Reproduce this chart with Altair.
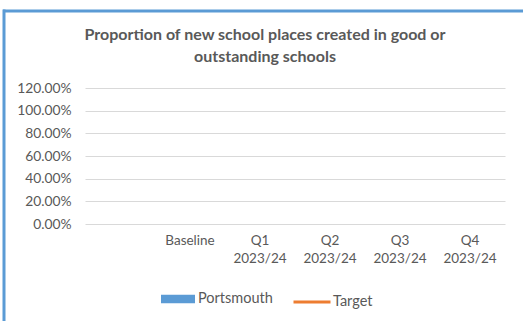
import altair as alt
import pandas as pd

# ---- data (chart has no plotted values yet) ----
categories = ["", "Baseline", "Q1|2023/24", "Q2|2023/24", "Q3|2023/24", "Q4|2023/24"]
portsmouth = [None, None, None, None, None, None]
target = [None, None, None, None, None, None]
y_ticks = [0, 0.2, 0.4, 0.6, 0.8, 1.0, 1.2]

df = pd.DataFrame({"cat": categories, "Portsmouth": portsmouth, "Target": target})

FONT = "Lato"
GREY = "#595959"
BLUE = "#5B9BD5"
ORANGE = "#ED7D31"

x_enc = alt.X(
    "cat:N",
    scale=alt.Scale(domain=categories, paddingInner=0.33, paddingOuter=0.165),
    sort=categories,
    axis=alt.Axis(
        title=None, labelAngle=0, domain=False, ticks=False, grid=False,
        labelExpr="split(datum.label, '|')", labelPadding=9, labelLineHeight=18,
        labelFont=FONT, labelFontSize=13.5, labelColor=GREY,
    ),
)
y_scale = alt.Scale(domain=[0, 1.2], nice=False, zero=True)
y_axis = alt.Axis(
    title=None, format=".2%", values=y_ticks, tickCount=7, labelOverlap=False,
    domain=False, ticks=False,
    gridColor="#D9D9D9", gridWidth=1, labelPadding=14,
    labelFont=FONT, labelFontSize=13.8, labelColor=GREY,
)

bars = alt.Chart(df).mark_bar().encode(
    x=x_enc,
    y=alt.Y("Portsmouth:Q", scale=y_scale, axis=y_axis),
    fill=alt.Fill(
        "s:N",
        scale=alt.Scale(domain=["Portsmouth"], range=[BLUE]),
        legend=alt.Legend(
            title=None, orient="none", legendX=76, legendY=194,
            symbolType="M-1,-0.25H1V0.25H-1Z", symbolSize=1156,
            symbolStrokeWidth=0, labelOffset=3,
            labelFont=FONT, labelFontSize=14.5, labelColor=GREY,
        ),
    ),
).transform_calculate(s="'Portsmouth'")

line = alt.Chart(df).mark_line(strokeWidth=3).encode(
    x=x_enc,
    y=alt.Y("Target:Q", scale=y_scale, axis=y_axis),
    stroke=alt.Stroke(
        "t:N",
        scale=alt.Scale(domain=["Target"], range=[ORANGE]),
        legend=alt.Legend(
            title=None, orient="none", legendX=207, legendY=194,
            symbolType="stroke", symbolSize=1369, symbolStrokeWidth=3,
            labelOffset=1,
            labelFont=FONT, labelFontSize=14.5, labelColor=GREY,
        ),
    ),
).transform_calculate(t="'Target'")

frame_df = pd.DataFrame({"k": [0]})
top_border = alt.Chart(frame_df).mark_rect(color=BLUE, strokeWidth=0).encode(
    x=alt.value(-82), x2=alt.value(438), y=alt.value(-78.5), y2=alt.value(-75.5)
)
left_border = alt.Chart(frame_df).mark_rect(color=BLUE, strokeWidth=0).encode(
    x=alt.value(-82.5), x2=alt.value(-79.5), y=alt.value(-78.5), y2=alt.value(233)
)

chart = (
    alt.layer(bars, line, top_border, left_border)
    .resolve_scale(fill="independent", stroke="independent")
    .properties(
        width=420, height=136,
        autosize=alt.AutoSizeParams(type="none"),
        padding={"left": 85, "top": 88, "right": 18, "bottom": 97},
        background="white",
        title=alt.TitleParams(
            text=["Proportion of new school places created in good or", "outstanding schools"],
            font=FONT, fontSize=16, fontWeight="bold", color=GREY,
            anchor="middle", dx=-30, offset=-55, lineHeight=22,
        ),
    )
    .configure_view(stroke=None)
)

chart.save("out.html", embed_options={"renderer": "svg", "actions": False})
